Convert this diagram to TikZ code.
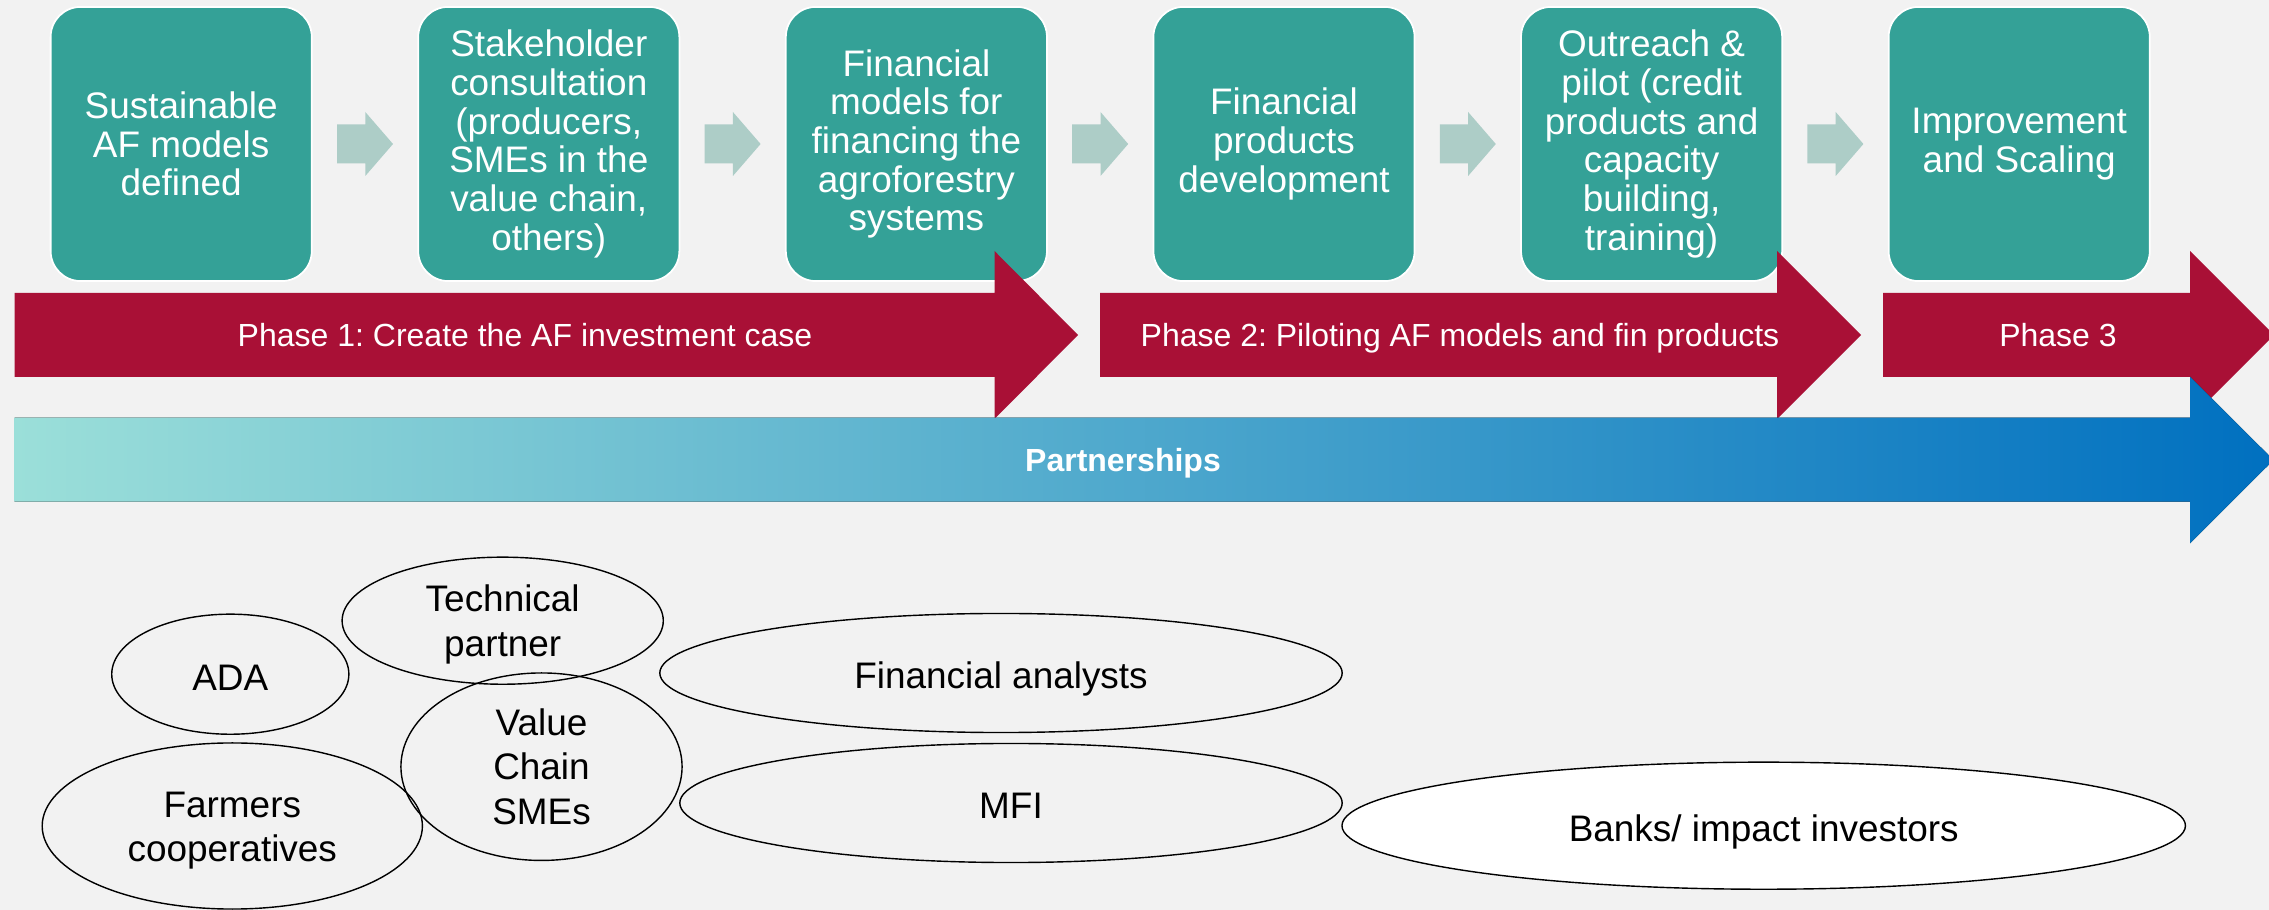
\documentclass[tikz,border=0pt]{standalone}
\usepackage{fontspec}
\setmainfont{Liberation Sans}
\usetikzlibrary{calc,shapes.geometric}
\frenchspacing
\definecolor{pagebg}{HTML}{F2F2F2}
\definecolor{boxteal}{HTML}{34A197}
\definecolor{steparrow}{HTML}{ADCDC7}
\definecolor{phasered}{HTML}{A91036}
\definecolor{partnerblue}{HTML}{0070C0}
\definecolor{partneraqua}{HTML}{9BDFD9}
\newcommand{\tallline}{\rule{0pt}{10pt}}
\tikzset{
  stage/.style={rounded corners=0.3cm, fill=boxteal, draw=white, line width=0.5pt,
    minimum width=2.61cm, minimum height=2.74cm, inner sep=0pt, align=center,
    text=white, font=\fontsize{10.5}{11}\selectfont},
  phase/.style={anchor=base, text=white, inner sep=0pt, font=\fontsize{9.1}{11}\selectfont},
  actor/.style={ellipse, draw=black, line width=0.4pt, inner sep=0pt, align=center,
    font=\fontsize{10.5}{12.6}\selectfont,
    execute at begin node={\rule{0pt}{11.5pt}},
    execute at end node={\rule[-2.5pt]{0pt}{0pt}}},
}
\begin{document}
\begin{tikzpicture}[x=0.01cm,y=-0.01cm]
      \fill[pagebg] (0,0) rectangle (2269,910);
      \useasboundingbox (0,0) rectangle (2269,910);
      \path
        (181.2,144) node[stage] (s1){Sustainable\\AF models\\defined}
        (548.8,144) node[stage] (s2){Stakeholder\\consultation\\(producers,\\SMEs in the\\value chain,\\others)}
        (916.4,144) node[stage] (s3){Financial\\models for\\financing the\\agroforestry\\systems}
        (1284.0,144) node[stage] (s4){Financial\\products\\development}
        (1651.6,144) node[stage] (s5){Outreach \&\\pilot (credit\\products and\\capacity\\building,\\training)}
        (2019.2,144) node[stage] (s6){Improvement\\and Scaling};
      \begin{scope}[fill=steparrow]
        \fill ($(s1.east)!0.5!(s2.west)+(-28,-19.5)$) -- ++(28.3,0) -- ++(0,-12.5) -- ++(27.7,32) -- ++(-27.7,32) -- ++(0,-12.5) -- ++(-28.3,0) -- cycle;
        \fill ($(s2.east)!0.5!(s3.west)+(-28,-19.5)$) -- ++(28.3,0) -- ++(0,-12.5) -- ++(27.7,32) -- ++(-27.7,32) -- ++(0,-12.5) -- ++(-28.3,0) -- cycle;
        \fill ($(s3.east)!0.5!(s4.west)+(-28,-19.5)$) -- ++(28.3,0) -- ++(0,-12.5) -- ++(27.7,32) -- ++(-27.7,32) -- ++(0,-12.5) -- ++(-28.3,0) -- cycle;
        \fill ($(s4.east)!0.5!(s5.west)+(-28,-19.5)$) -- ++(28.3,0) -- ++(0,-12.5) -- ++(27.7,32) -- ++(-27.7,32) -- ++(0,-12.5) -- ++(-28.3,0) -- cycle;
        \fill ($(s5.east)!0.5!(s6.west)+(-28,-19.5)$) -- ++(28.3,0) -- ++(0,-12.5) -- ++(27.7,32) -- ++(-27.7,32) -- ++(0,-12.5) -- ++(-28.3,0) -- cycle;
      \end{scope}
      \begin{scope}[fill=phasered]
        \fill (14.7,293) -- (994.5,293) -- (994.5,251) -- (1078,335) -- (994.5,419) -- (994.5,377) -- (14.7,377) -- cycle;
        \fill (1100,293) -- (1777,293) -- (1777,251) -- (1861,335) -- (1777,419) -- (1777,377) -- (1100,377) -- cycle;
        \fill (1883,293) -- (2190,293) -- (2190,251) -- (2274,335) -- (2190,419) -- (2190,377) -- (1883,377) -- cycle;
      \end{scope}
      \fill[left color=partneraqua, right color=partnerblue]
        (14.7,417.7) -- (2190,417.7) -- (2190,376.7) -- (2273.5,460) -- (2190,543.3) -- (2190,501.7) -- (14.7,501.7) -- cycle;
      \path
        (525,346.5) node[phase] (p1){Phase 1: Create the AF investment case}
        (1460,346.5) node[phase] (p2){Phase 2: Piloting AF models and fin products}
        (2058,346.5) node[phase] (p3){Phase 3}
        (1123,471.5) node[phase, font=\fontsize{9.1}{11}\selectfont\bfseries] (partners){Partnerships};
      \path
        (230.3,674.2) node[actor, minimum width=2.37cm, minimum height=1.20cm] (ada){ADA}
        (502.7,620.7) node[actor, minimum width=3.21cm, minimum height=1.27cm] (tech){\tallline Technical\\partner}
        (1001,673) node[actor, minimum width=6.82cm, minimum height=1.19cm] (analysts){Financial analysts}
        (232.3,826) node[actor, minimum width=3.80cm, minimum height=1.66cm] (farmers){\tallline Farmers\\cooperatives}
        (541.5,766.7) node[actor, minimum width=2.81cm, minimum height=1.70cm] (smes){\tallline Value\\Chain\\SMEs}
        (1011,803) node[actor, minimum width=6.62cm, minimum height=1.19cm] (mfi){MFI}
        (1763.7,825.7) node[actor, fill=white, minimum width=8.43cm, minimum height=1.27cm] (banks){Banks/ impact investors};
    \end{tikzpicture}
\end{document}
